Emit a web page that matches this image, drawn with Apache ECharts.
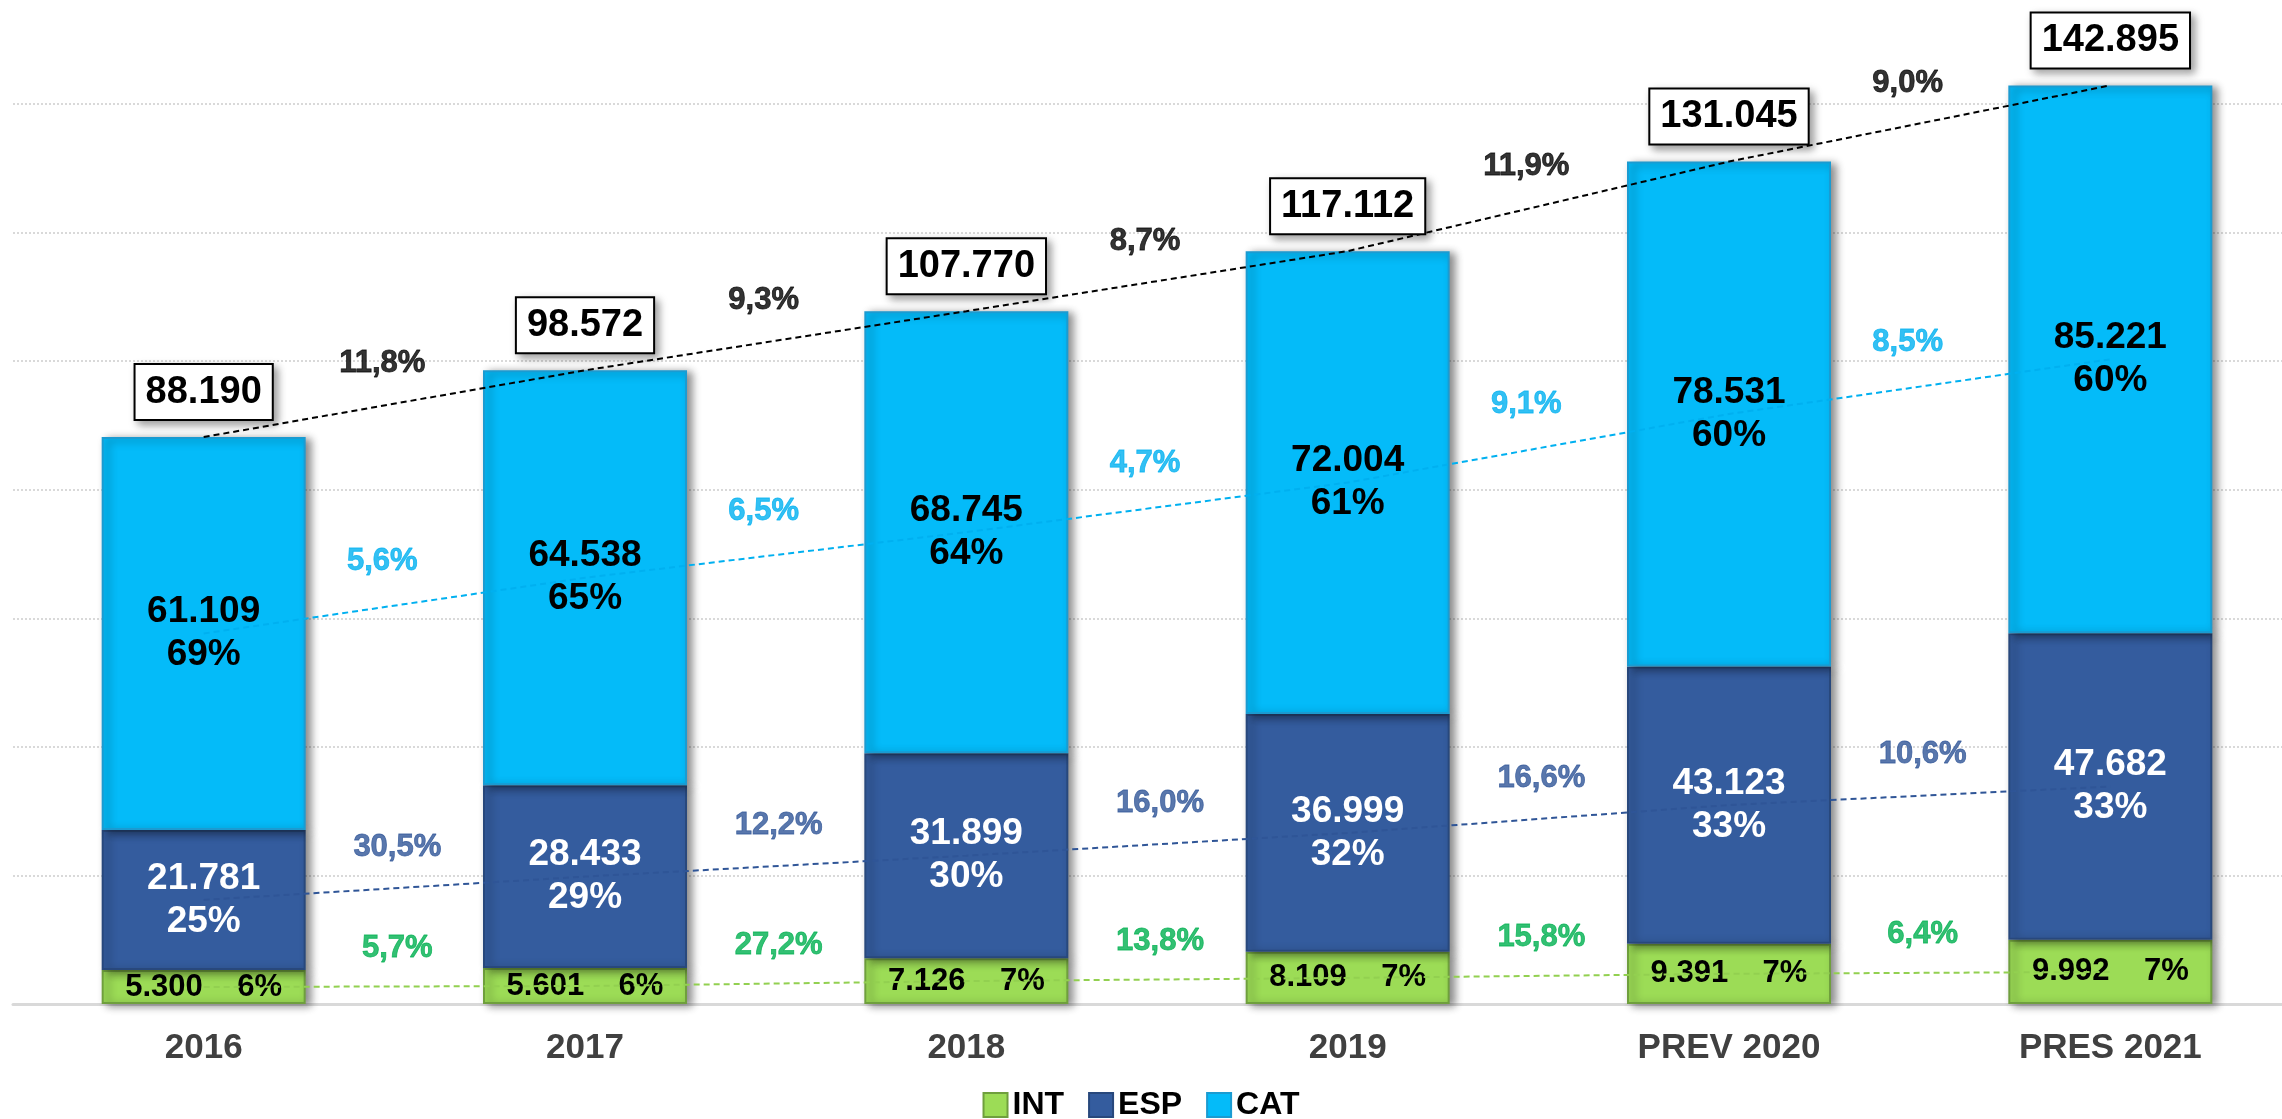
<!DOCTYPE html>
<html>
<head>
<meta charset="utf-8">
<script src="https://cdn.jsdelivr.net/npm/echarts@6/dist/echarts.min.js"></script>
<style>
html,body{margin:0;padding:0;background:#fff;overflow:hidden;}
#c{width:2282px;height:1119px;}
</style>
</head>
<body>
<div id="c"></div>
<script>
// ---- data ----
var categories = ['2016', '2017', '2018', '2019', 'PREV 2020', 'PRES 2021'];
var intValues = [5300, 5601, 7126, 8109, 9391, 9992];
var espValues = [21781, 28433, 31899, 36999, 43123, 47682];
var catValues = [61109, 64538, 68745, 72004, 78531, 85221];
var totals = [88190, 98572, 107770, 117112, 131045, 142895];
var intShare = [6, 6, 7, 7, 7, 7];
var espShare = [25, 29, 30, 32, 33, 33];
var catShare = [69, 65, 64, 61, 60, 60];
var totalGrowth = [11.8, 9.3, 8.7, 11.9, 9.0];
var catGrowth = [5.6, 6.5, 4.7, 9.1, 8.5];
var espGrowth = [30.5, 12.2, 16.0, 16.6, 10.6];
var intGrowth = [5.7, 27.2, 13.8, 15.8, 6.4];
var yTicks = { min: 0, max: 140000, interval: 20000 };

// ---- helpers ----
function fmt(n) { return String(n).replace(/\B(?=(\d{3})+(?!\d))/g, '.'); }
function pct(v) { return v.toFixed(1).replace('.', ',') + '%'; }

var FONT = '"Liberation Sans", Arial, sans-serif';
var C_INT = '#9CDC56', C_ESP = '#345C9E', C_CAT = '#04BBF9';

// midpoints of each segment (used for trend lines)
var intMid = intValues.map(function (v) { return v / 2; });
var espMid = espValues.map(function (v, i) { return intValues[i] + v / 2; });
var catMid = catValues.map(function (v, i) { return intValues[i] + espValues[i] + v / 2; });

function growthPoints(mid) {
  var pts = [];
  for (var k = 0; k < mid.length - 1; k++) pts.push([k + 0.5, (mid[k] + mid[k + 1]) / 2]);
  return pts;
}

var barShadow = { shadowColor: 'rgba(0,0,0,0.45)', shadowBlur: 8, shadowOffsetX: 5, shadowOffsetY: 2 };

function barSeries(name, values, color, border, labelFn, labelStyle) {
  return {
    name: name, type: 'bar', stack: 'total', barWidth: 204, clip: false,
    xAxisIndex: 0, yAxisIndex: 0,
    data: values,
    itemStyle: Object.assign({ color: color, borderColor: border, borderWidth: 2 }, barShadow),
    label: Object.assign({ show: true, position: 'inside', fontFamily: FONT, fontWeight: 'bold',
      formatter: labelFn }, labelStyle),
    emphasis: { disabled: true }
  };
}

function trendLine(name, values, color) {
  return {
    name: name, type: 'line', xAxisIndex: 0, yAxisIndex: 0, clip: false,
    data: values, symbol: 'circle', symbolSize: 0, showSymbol: true,
    lineStyle: { color: color, width: 2, type: [6, 4] },
    itemStyle: { color: 'rgba(0,0,0,0)' },
    emphasis: { disabled: true }, silent: true, z: 3
  };
}

function growthLabels(name, mid, growth, color, dx, dy) {
  return {
    name: name, type: 'scatter', xAxisIndex: 1, yAxisIndex: 0, clip: false,
    data: growthPoints(mid), symbolSize: 0, silent: true, z: 5,
    label: { show: true, position: 'inside', offset: [dx, dy], color: color,
      fontFamily: FONT, fontWeight: 'bold', fontSize: 31,
      textBorderColor: color, textBorderWidth: 0.8,
      formatter: function (p) { return pct(growth[p.dataIndex]); } }
  };
}

var totalLine = trendLine('TOTAL', totals, '#000000');
totalLine.label = {
  show: true, position: 'top', distance: 18,
  formatter: function (p) { return fmt(totals[p.dataIndex]); },
  fontFamily: FONT, fontWeight: 'bold', fontSize: 38, lineHeight: 44, color: '#000',
  backgroundColor: '#ffffff', borderColor: '#000000', borderWidth: 2, padding: [5, 10, 5, 10],
  shadowColor: 'rgba(0,0,0,0.35)', shadowBlur: 8, shadowOffsetX: 4, shadowOffsetY: 4
};
totalLine.z = 6;

var option = {
  animation: false,
  backgroundColor: '#ffffff',
  textStyle: { fontFamily: FONT },
  grid: { left: 13, top: 104, width: 2288, height: 900, containLabel: false, outerBoundsMode: 'none' },
  legend: {
    data: ['INT', 'ESP', 'CAT'], top: 1084, left: 'center',
    icon: 'rect', itemWidth: 24, itemHeight: 24, itemGap: 24,
    textStyle: { fontFamily: FONT, fontWeight: 'bold', fontSize: 32, color: '#000' }
  },
  xAxis: [
    { type: 'category', data: categories, boundaryGap: true,
      axisLine: { show: true, lineStyle: { color: '#D9D9D9', width: 3 } },
      axisTick: { show: false },
      axisLabel: { color: '#404040', fontFamily: FONT, fontWeight: 'bold', fontSize: 35, margin: 27 } },
    { type: 'value', min: -0.5, max: 5.5, show: false }
  ],
  yAxis: {
    type: 'value', min: yTicks.min, max: yTicks.max, interval: yTicks.interval,
    axisLabel: { show: false }, axisLine: { show: false }, axisTick: { show: false },
    splitLine: { show: true, lineStyle: { color: '#D9D9D9', width: 2, type: [2, 2] } }
  },
  series: [
    barSeries('INT', intValues, C_INT, '#6F9F3D',
      function (p) { return fmt(intValues[p.dataIndex]) + '    ' + intShare[p.dataIndex] + '%'; },
      { color: '#000', fontSize: 31 }),
    barSeries('ESP', espValues, C_ESP, '#28487C',
      function (p) { return fmt(espValues[p.dataIndex]) + '\n' + espShare[p.dataIndex] + '%'; },
      { color: '#fff', fontSize: 37, lineHeight: 43 }),
    barSeries('CAT', catValues, C_CAT, '#1B9BD1',
      function (p) { return fmt(catValues[p.dataIndex]) + '\n' + catShare[p.dataIndex] + '%'; },
      { color: '#000', fontSize: 37, lineHeight: 43 }),
    trendLine('INT trend', intMid, '#92D050'),
    trendLine('ESP trend', espMid, '#2F5597'),
    trendLine('CAT trend', catMid, '#00B0F0'),
    totalLine,
    growthLabels('INT growth', intMid, intGrowth, '#00B050', 3, -38),
    growthLabels('ESP growth', espMid, espGrowth, '#2F5597', 3, -41),
    growthLabels('CAT growth', catMid, catGrowth, '#00B0F0', -12, -44),
    growthLabels('TOTAL growth', totals, totalGrowth, '#000000', -12, -40)
  ]
};

var chart = echarts.init(document.getElementById('c'), null, { renderer: 'canvas' });
chart.setOption(option);
</script>
</body>
</html>
